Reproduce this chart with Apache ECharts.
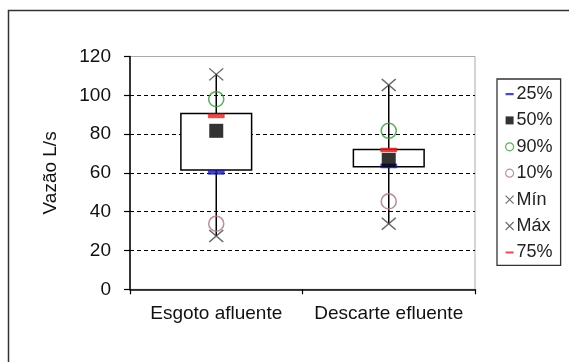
<!DOCTYPE html>
<html>
<head>
<meta charset="utf-8">
<script src="https://cdn.jsdelivr.net/npm/echarts@6/dist/echarts.min.js"></script>
<style>html,body{margin:0;padding:0;background:#fff}#c{width:569px;height:362px}</style>
</head>
<body>
<div id="c"></div>
<script>
const categories = ['Esgoto afluente', 'Descarte efluente'];
const yTicks = [0, 20, 40, 60, 80, 100, 120];
const boxLow = [61.5, 63.2];
const boxHigh = [90.6, 72.1];
const p25 = [60.3, 63.6];
const p50 = [81.7, 66.7];
const p75 = [89.4, 71.8];
const p90 = [98.0, 81.7];
const p10 = [33.8, 45.3];
const minV = [27.5, 33.8];
const maxV = [110.8, 105.3];

const FONT = "'Liberation Sans', Arial, sans-serif";
const crossPath = 'path://M0,0L10,10M10,0L0,10';
const dashIcon = 'path://M0,0h0.01v0.01h-0.01zM0,3h8v2.2h-8zM7.99,7.99h0.01v0.01h-0.01z';
const pts = arr => arr.map((v, i) => [i, v]);

const chart = echarts.init(document.getElementById('c'), null, {renderer: 'canvas'});
chart.setOption({
  backgroundColor: '#fff',
  animation: false,
  textStyle: {fontFamily: FONT},
  graphic: [{
    type: 'rect', z: 100, silent: true,
    shape: {x: 8.5, y: 10.5, width: 620, height: 420},
    style: {fill: 'none', stroke: '#333', lineWidth: 1.5}
  }],
  grid: {left: 130, right: 94, top: 56.5, bottom: 72.7, show: true, borderColor: '#aaa', borderWidth: 1, backgroundColor: '#fff'},
  legend: {
    orient: 'vertical', left: 497, top: 79,
    padding: [5, 8, 3, 8],
    borderColor: '#333', borderWidth: 1.3, backgroundColor: '#fff',
    itemWidth: 8, itemHeight: 8, itemGap: 6.4,
    textStyle: {fontFamily: FONT, fontSize: 18, color: '#222', lineHeight: 20, padding: [0, 0, 0, -2]},
    data: [
      {name: '25%', icon: dashIcon, itemStyle: {color: '#1a1aa8', borderWidth: 0}},
      {name: '50%', icon: 'rect', itemStyle: {color: '#000', borderWidth: 0}},
      {name: '90%', icon: 'circle', itemStyle: {color: 'transparent', borderColor: '#3a9a3a', borderWidth: 1.2}},
      {name: '10%', icon: 'circle', itemStyle: {color: 'transparent', borderColor: '#a87888', borderWidth: 1.2}},
      {name: 'Mín', icon: crossPath, itemStyle: {color: 'transparent', borderColor: '#444', borderWidth: 1.1}},
      {name: 'Máx', icon: crossPath, itemStyle: {color: 'transparent', borderColor: '#444', borderWidth: 1.1}},
      {name: '75%', icon: dashIcon, itemStyle: {color: '#e02020', borderWidth: 0}}
    ]
  },
  xAxis: {
    type: 'category', data: categories, boundaryGap: true,
    axisLine: {lineStyle: {color: '#000', width: 1.5}},
    axisTick: {show: true, alignWithLabel: false, length: 5, lineStyle: {color: '#000', width: 1.2}},
    axisLabel: {fontFamily: FONT, fontSize: 19, color: '#111', margin: 15, interval: 0},
    splitLine: {show: false}
  },
  yAxis: {
    type: 'value', min: yTicks[0], max: yTicks[yTicks.length - 1], interval: 20,
    name: 'Vazão L/s', nameLocation: 'middle', nameGap: 70,
    nameTextStyle: {fontFamily: FONT, fontSize: 19, color: '#111'},
    axisLine: {show: true, lineStyle: {color: '#000', width: 1.5}},
    axisTick: {show: true, length: 6, lineStyle: {color: '#000', width: 1.2}},
    axisLabel: {fontFamily: FONT, fontSize: 19, color: '#111', margin: 19},
    splitLine: {show: true, showMinLine: false, showMaxLine: false, lineStyle: {color: '#000', type: [4, 3], width: 1}}
  },
  series: [
    {
      type: 'custom', name: 'box', z: 2,
      data: categories.map((c, i) => [i, minV[i], boxLow[i], boxHigh[i], maxV[i]]),
      encode: {x: 0, y: [1, 2, 3, 4]},
      renderItem: function (params, api) {
        const i = api.value(0);
        const pMin = api.coord([i, api.value(1)]);
        const pLo = api.coord([i, api.value(2)]);
        const pHi = api.coord([i, api.value(3)]);
        const pMax = api.coord([i, api.value(4)]);
        const w = api.size([1, 0])[0] * 0.41;
        return {
          type: 'group',
          children: [
            {type: 'line', shape: {x1: pMin[0], y1: pMin[1], x2: pMax[0], y2: pMax[1]}, style: {stroke: '#000', lineWidth: 1.5}},
            {type: 'rect', shape: {x: pHi[0] - w / 2, y: pHi[1], width: w, height: pLo[1] - pHi[1]}, style: {fill: '#fff', stroke: '#000', lineWidth: 1.5}}
          ]
        };
      }
    },
    {name: '25%', type: 'scatter', z: 3, data: pts(p25), symbol: 'rect', symbolSize: [16, 4], itemStyle: {color: '#1a1aa8', borderColor: '#1a1aa8', borderWidth: 0.5}},
    {name: '50%', type: 'scatter', z: 3, data: pts(p50), symbol: 'rect', symbolSize: [14, 14], itemStyle: {color: '#000'}},
    {name: '90%', type: 'scatter', z: 3, data: pts(p90), symbol: 'circle', symbolSize: 15, itemStyle: {color: 'transparent', borderColor: '#3a9a3a', borderWidth: 1.6}},
    {name: '10%', type: 'scatter', z: 3, data: pts(p10), symbol: 'circle', symbolSize: 15, itemStyle: {color: 'transparent', borderColor: '#a87888', borderWidth: 1.6}},
    {name: 'Mín', type: 'scatter', z: 3, data: pts(minV), symbol: crossPath, symbolSize: [14, 12], itemStyle: {color: 'transparent', borderColor: '#444', borderWidth: 1.4}},
    {name: 'Máx', type: 'scatter', z: 3, data: pts(maxV), symbol: crossPath, symbolSize: [14, 12], itemStyle: {color: 'transparent', borderColor: '#444', borderWidth: 1.4}},
    {name: '75%', type: 'scatter', z: 3, data: pts(p75), symbol: 'rect', symbolSize: [16, 4], itemStyle: {color: '#e02020', borderColor: '#e02020', borderWidth: 0.5}}
  ]
});
</script>
</body>
</html>
